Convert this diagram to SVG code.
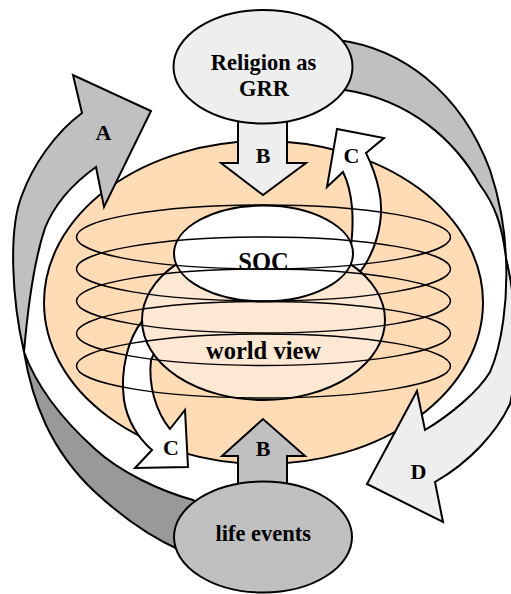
<svg xmlns="http://www.w3.org/2000/svg" width="511" height="594" viewBox="0 0 511 594">
<style>
.s{stroke:#000;stroke-width:2;stroke-linejoin:miter}
.ring{fill:none;stroke:#000;stroke-width:1.5}
.t{font-family:"Liberation Serif","Times New Roman",serif;font-weight:bold;text-anchor:middle;fill:#000}
.lbl{font-size:22px}
</style>
<rect width="511" height="594" fill="#fff"/>
<g id="context">
<ellipse class="s" cx="263.5" cy="302.5" rx="219.5" ry="161.5" fill="#FFDBB6"/>
</g>
<g id="connectors">
<path id="arrowA-back" class="s" fill="#999999" d="M24,352 C32,400 50,450 95,492 C120,515 150,537 180,550 L200,505 L193,500 C160,491 120,472 95,449 C65,422 38,390 24,352 Z"/>
<path id="arrowA" class="s" fill="#C0C0C0" d="M82,113 L73,75 L151,111 L104,207 L96,167 C75,182 55,203 45,228 C35,258 28,305 24,352 C12,300 8,230 22,195 C33,165 55,133 82,113 Z"/>
<path id="arrowD-back" class="s" fill="#C0C0C0" d="M338,40 C400,48 460,90 490,170 C500,200 505,230 506,258 C502,225 495,205 480,185 C455,140 410,100 345,90 L340,88 Z"/>
<path id="arrowD" class="s" fill="#EEEEEE" d="M506,258 C516,300 520,360 510,404 C497,432 470,462 435,482 L443,522 L367,484 L417,391 L425,430 C450,415 478,392 490,372 C502,345 508,300 506,258 Z"/>
<path id="arrowC-up" class="s" fill="#FFFFFF" d="M366,153 L384,138 L337,129 L327,187 L343,172 C352,190 356,220 349,258 L340,266 L354,279 C374,258 386,222 379,190 C376,176 371,163 366,153 Z"/>
<path id="arrowC-down" class="s" fill="#FFFFFF" d="M152,450 L135,468 L188,467 L185,410 L170,429 C156,412 148,385 151,360 L158,345 L150,314 L143,320 C128,338 120,370 124,400 C127,420 138,438 152,450 Z"/>
<path id="arrowB-top" class="s" fill="#EEEEEE" d="M238,110 L287,110 L287,163 L306,163 L263,195 L221,163 L238,163 Z"/>
<path id="arrowB-bottom" class="s" fill="#C0C0C0" d="M238,505 L287,505 L287,456 L305,456 L263,419 L222,456 L238,456 Z"/>
<text class="t lbl" x="103.5" y="140">A</text>
<text class="t lbl" x="263" y="163">B</text>
<text class="t lbl" x="351.5" y="163">C</text>
<text class="t lbl" x="171" y="455">C</text>
<text class="t lbl" x="263" y="456">B</text>
<text class="t lbl" x="418.5" y="479">D</text>
</g>
<g id="world-view">
<ellipse class="s" cx="263.5" cy="320" rx="121.5" ry="80" fill="#FDE8D4"/>
<text class="t" x="263.5" y="359" font-size="24.5">world view</text>
</g>
<g id="soc">
<ellipse class="s" cx="263.5" cy="253.5" rx="89.5" ry="48" fill="#FFFFFF"/>
<text class="t" x="263.5" y="270" font-size="24.5">SOC</text>
</g>
<g id="rings">
<ellipse class="ring" cx="263.5" cy="237" rx="187" ry="32"/>
<ellipse class="ring" cx="263.5" cy="269" rx="187" ry="32"/>
<ellipse class="ring" cx="263.5" cy="301" rx="187" ry="32"/>
<ellipse class="ring" cx="263.5" cy="333.5" rx="187" ry="32"/>
<ellipse class="ring" cx="263.5" cy="366" rx="187" ry="32"/>
</g>
<g id="religion">
<ellipse class="s" cx="263" cy="66.7" rx="89.5" ry="56.7" fill="#EEEEEE"/>
<text class="t" x="263.5" y="69.5" font-size="22.5">Religion as</text>
<text class="t" x="264" y="95.5" font-size="22.5">GRR</text>
</g>
<g id="life-events">
<ellipse class="s" cx="263" cy="537" rx="89" ry="55.5" fill="#C0C0C0"/>
<text class="t" x="263.3" y="540.5" font-size="22.5">life events</text>
</g>
</svg>
